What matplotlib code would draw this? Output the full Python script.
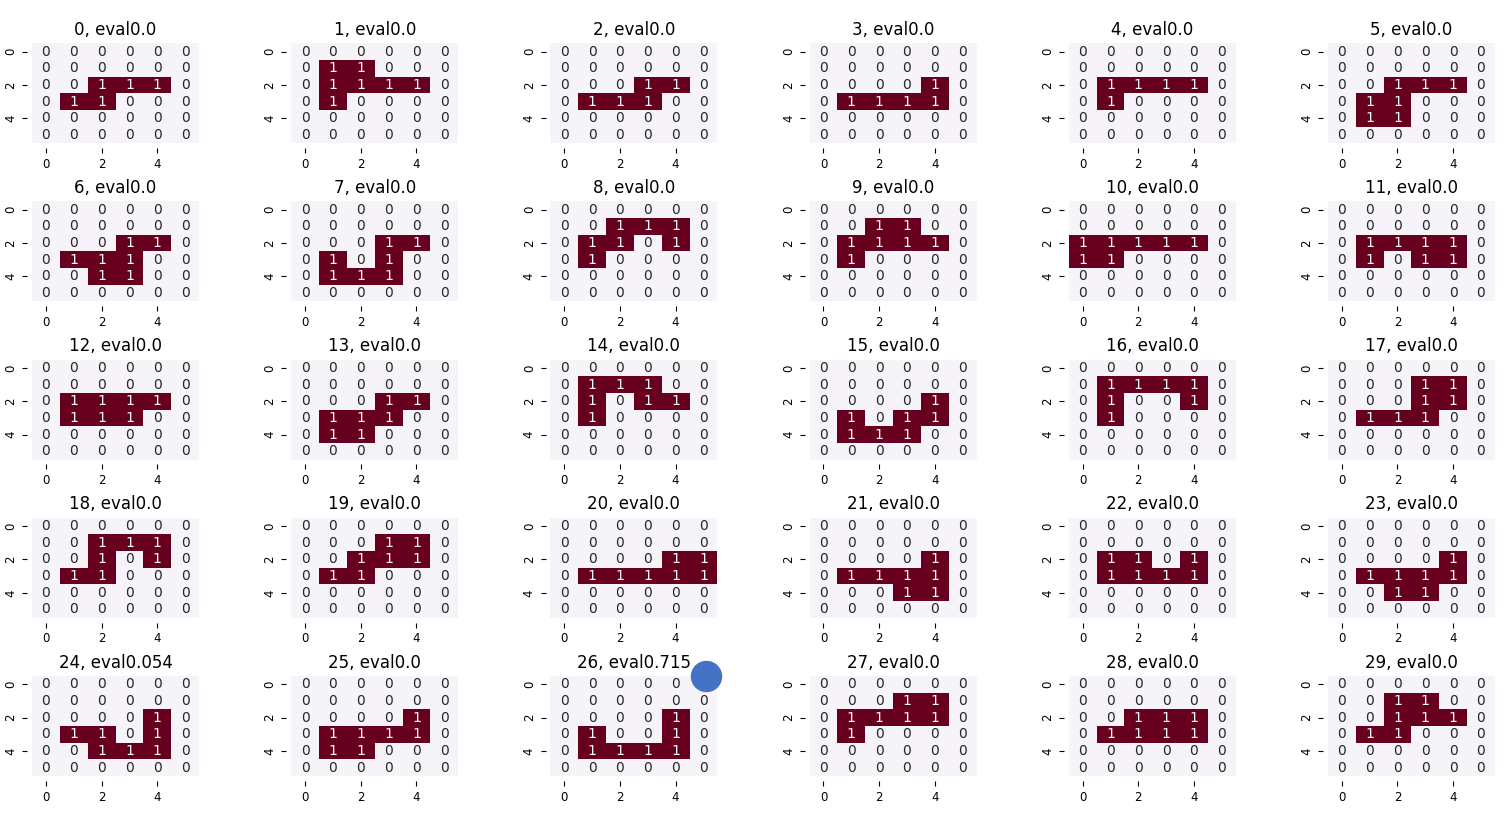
import matplotlib
matplotlib.use("Agg")
import matplotlib.pyplot as plt
import numpy as np
import seaborn as sns

# 30 boards, 6x6 each, rows top to bottom
boards = [
    ["000000", "000000", "001110", "011000", "000000", "000000"],  # 0
    ["000000", "011000", "011110", "010000", "000000", "000000"],  # 1
    ["000000", "000000", "000110", "011100", "000000", "000000"],  # 2
    ["000000", "000000", "000010", "011110", "000000", "000000"],  # 3
    ["000000", "000000", "011110", "010000", "000000", "000000"],  # 4
    ["000000", "000000", "001110", "011000", "011000", "000000"],  # 5
    ["000000", "000000", "000110", "011100", "001100", "000000"],  # 6
    ["000000", "000000", "000110", "010100", "011100", "000000"],  # 7
    ["000000", "001110", "011010", "010000", "000000", "000000"],  # 8
    ["000000", "001100", "011110", "010000", "000000", "000000"],  # 9
    ["000000", "000000", "111110", "110000", "000000", "000000"],  # 10
    ["000000", "000000", "011110", "010110", "000000", "000000"],  # 11
    ["000000", "000000", "011110", "011100", "000000", "000000"],  # 12
    ["000000", "000000", "000110", "011100", "011000", "000000"],  # 13
    ["000000", "011100", "010110", "010000", "000000", "000000"],  # 14
    ["000000", "000000", "000010", "010110", "011100", "000000"],  # 15
    ["000000", "011110", "010010", "010000", "000000", "000000"],  # 16
    ["000000", "000110", "000110", "011100", "000000", "000000"],  # 17
    ["000000", "001110", "001010", "011000", "000000", "000000"],  # 18
    ["000000", "000110", "001110", "011000", "000000", "000000"],  # 19
    ["000000", "000000", "000011", "011111", "000000", "000000"],  # 20
    ["000000", "000000", "000010", "011110", "000110", "000000"],  # 21
    ["000000", "000000", "011010", "011110", "000000", "000000"],  # 22
    ["000000", "000000", "000010", "011110", "001100", "000000"],  # 23
    ["000000", "000000", "000010", "011010", "001110", "000000"],  # 24
    ["000000", "000000", "000010", "011110", "011000", "000000"],  # 25
    ["000000", "000000", "000010", "010010", "011110", "000000"],  # 26
    ["000000", "000110", "011110", "010000", "000000", "000000"],  # 27
    ["000000", "000000", "001110", "011110", "000000", "000000"],  # 28
    ["000000", "001100", "001110", "011000", "000000", "000000"],  # 29
]

evals = [0.0] * 30
evals[24] = 0.054
evals[26] = 0.715

# highlighted point drawn on board 26
mark_board = 26
mark_x = 5.6
mark_y = 0.0

fig = plt.figure(figsize=(15.1, 8.16), dpi=100)
axes = fig.subplots(5, 6)
fig.subplots_adjust(left=0.0212, right=0.990, top=0.947, bottom=0.049,
                    wspace=0.552, hspace=0.582)

tick_pos = [0.5, 2.5, 4.5]
tick_lab = ["0", "2", "4"]

for i, ax in enumerate(axes.flat):
    grid = np.array([[int(c) for c in row] for row in boards[i]])
    sns.heatmap(grid, ax=ax, cmap="PuRd", vmin=0, vmax=1, annot=True,
                cbar=False, xticklabels=False, yticklabels=False,
                annot_kws={"size": 10})
    # ticks sit a little away from the cells
    ax.spines["bottom"].set_position(("outward", 3.5))
    ax.spines["left"].set_position(("outward", 3.5))
    ax.set_xticks(tick_pos)
    ax.set_xticklabels(tick_lab, fontsize=8.5)
    ax.set_yticks(tick_pos)
    ax.set_yticklabels(tick_lab, fontsize=8.5, rotation=90, va="center")
    ax.set_title(f"{i}, eval{evals[i]}", fontsize=12)
    if i == mark_board:
        ax.plot(mark_x, mark_y, "o", color="#4472c4", markersize=21.6,
                clip_on=False, zorder=5)

fig.savefig("out.png", dpi=100)
